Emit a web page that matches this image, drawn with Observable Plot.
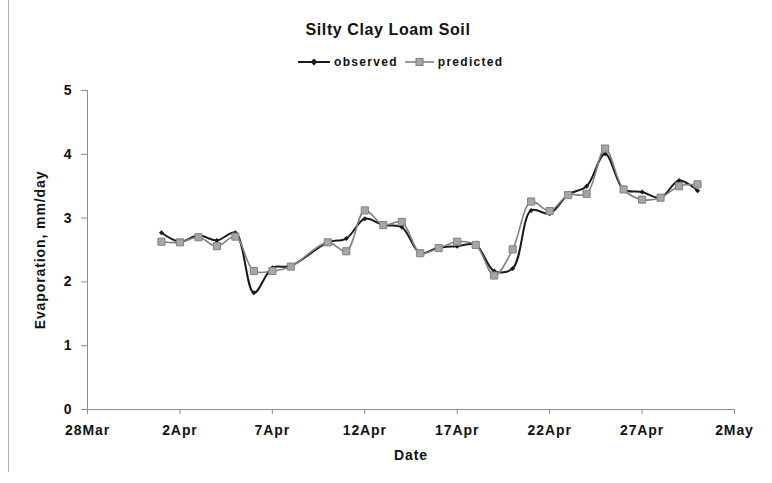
<!DOCTYPE html>
<html>
<head>
<meta charset="utf-8">
<script src="https://cdn.jsdelivr.net/npm/d3@7"></script>
<script src="https://cdn.jsdelivr.net/npm/@observablehq/plot@0.6"></script>
<style>
  body { margin: 0; background: #fff; }
  #wrap { position: relative; width: 772px; height: 483px; overflow: hidden; font-family: "Liberation Sans", Arial, sans-serif; }
  #edge { position: absolute; left: 8px; top: 0; height: 472px; border-left: 1px solid #b0b0b0; }
  #title { position: absolute; top: 21px; left: 0; width: 776px; text-align: center; font-weight: bold; font-size: 16px; letter-spacing: 0.6px; color: #111; }
  #legend { position: absolute; top: 55px; left: 298px; display: flex; align-items: center; font-weight: bold; font-size: 12px; letter-spacing: 1.3px; color: #111; }
  #legend span { margin: 0 7px 0 4px; }
  #chart { position: absolute; left: 0; top: 0; }
  #chart svg text { letter-spacing: 0.9px; }
</style>
</head>
<body>
<div id="wrap">
  <div id="edge"></div>
  <div id="title">Silty Clay Loam Soil</div>
  <div id="legend">
    <svg width="32" height="12"><line x1="0" y1="6" x2="32" y2="6" stroke="#1a1a1a" stroke-width="2"/><path d="M16,2.5L19.5,6L16,9.5L12.5,6Z" fill="#1a1a1a"/></svg><span>observed</span>
    <svg width="29" height="12"><line x1="0" y1="6" x2="29" y2="6" stroke="#808080" stroke-width="1.6"/><rect x="11" y="2.5" width="7" height="7" fill="#a6a6a6" stroke="#808080" stroke-width="1"/></svg><span>predicted</span>
  </div>
  <div id="chart"></div>
</div>
<script>
// Dates (April, day 9 missing)
const dates = ["2009-04-01","2009-04-02","2009-04-03","2009-04-04","2009-04-05","2009-04-06","2009-04-07","2009-04-08",
  "2009-04-10","2009-04-11","2009-04-12","2009-04-13","2009-04-14","2009-04-15","2009-04-16","2009-04-17","2009-04-18",
  "2009-04-19","2009-04-20","2009-04-21","2009-04-22","2009-04-23","2009-04-24","2009-04-25","2009-04-26","2009-04-27",
  "2009-04-28","2009-04-29","2009-04-30"];
const observed = [2.77,2.63,2.73,2.65,2.77,1.83,2.22,2.25,2.62,2.68,2.99,2.89,2.86,2.45,2.54,2.56,2.58,2.17,2.21,3.12,3.07,3.37,3.50,4.01,3.45,3.41,3.32,3.59,3.43];
const predicted = [2.63,2.62,2.70,2.56,2.71,2.17,2.17,2.24,2.62,2.48,3.12,2.89,2.94,2.45,2.53,2.63,2.58,2.10,2.51,3.26,3.11,3.36,3.38,4.09,3.45,3.29,3.32,3.50,3.53];
const xTickDates = ["2009-03-28","2009-04-02","2009-04-07","2009-04-12","2009-04-17","2009-04-22","2009-04-27","2009-05-02"];
const yTicks = [0,1,2,3,4,5];

const parse = d3.utcParse("%Y-%m-%d");
const obsData = dates.map((d, i) => ({date: parse(d), value: observed[i]}));
const predData = dates.map((d, i) => ({date: parse(d), value: predicted[i]}));
const xTicks = xTickDates.map(parse);

// Excel-like diamond: rotated square
const diamond = {draw(ctx, size) { const r = Math.sqrt(size) * 0.62; ctx.moveTo(0, -r); ctx.lineTo(r, 0); ctx.lineTo(0, r); ctx.lineTo(-r, 0); ctx.closePath(); }};

const chart = Plot.plot({
  width: 772,
  height: 483,
  marginTop: 90,
  marginBottom: 74,
  marginLeft: 87,
  marginRight: 38,
  style: {fontFamily: "Liberation Sans, Arial, sans-serif", fontSize: "14px", fontWeight: "bold", color: "#111", background: "transparent"},
  x: {type: "utc", domain: [xTicks[0], xTicks[xTicks.length - 1]]},
  y: {domain: [0, 5]},
  marks: [
    Plot.ruleY([0], {stroke: "#8c8c8c"}),
    Plot.ruleX([xTicks[0]], {stroke: "#8c8c8c"}),
    Plot.axisX({ticks: xTicks, tickFormat: d3.utcFormat("%-d%b"), tickSize: 5, tickPadding: 11, stroke: "#8c8c8c",
      label: "Date", labelAnchor: "center", labelArrow: "none", labelOffset: 50}),
    Plot.axisY({ticks: yTicks, tickFormat: d => String(d), tickSize: 6, tickPadding: 9, stroke: "#8c8c8c",
      label: "Evaporation, mm/day", labelAnchor: "center", labelArrow: "none", labelOffset: 52}),
    Plot.line(obsData, {x: "date", y: "value", stroke: "#1a1a1a", strokeWidth: 2, curve: "catmull-rom"}),
    Plot.dot(obsData, {x: "date", y: "value", symbol: diamond, r: 2.3, fill: "#1a1a1a", stroke: "none"}),
    Plot.line(predData, {x: "date", y: "value", stroke: "#7f7f7f", strokeWidth: 1.6, curve: "catmull-rom"}),
    Plot.dot(predData, {x: "date", y: "value", symbol: "square", r: 4, fill: "#a6a6a6", stroke: "#808080", strokeWidth: 1})
  ]
});
document.getElementById("chart").appendChild(chart);
</script>
</body>
</html>
